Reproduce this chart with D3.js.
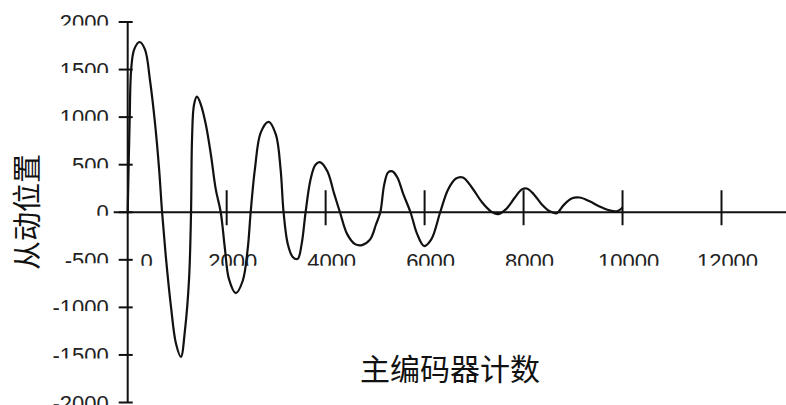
<!DOCTYPE html>
<html>
<head>
<meta charset="utf-8">
<script src="https://cdn.jsdelivr.net/npm/d3@7"></script>
<style>
  html, body { margin: 0; padding: 0; background: #fff; }
  svg { display: block; }
  .tick-label { font-family: "Liberation Sans", Arial, sans-serif; font-size: 22px; fill: #222; }
  .axis-title { font-family: "Noto Sans CJK SC", sans-serif; fill: #111; }
</style>
</head>
<body>
<svg id="chart" width="786" height="405"></svg>
<script>
// Master encoder count vs. follower position (damped oscillation)
const encoderCounts = [0, 40, 70, 130, 240, 350, 450, 555, 635, 695, 775, 875, 975, 1075, 1160, 1240,
  1280, 1300, 1340, 1400, 1480, 1580, 1680, 1780, 1880, 1965, 2045, 2185, 2325, 2425, 2485, 2570,
  2690, 2850, 2995, 3090, 3150, 3235, 3335, 3435, 3515, 3595, 3695, 3795, 3895, 4035, 4175, 4290,
  4435, 4595, 4735, 4900, 5020, 5105, 5185, 5265, 5350, 5450, 5570, 5715, 5850, 5990, 6135, 6315,
  6475, 6635, 6775, 6955, 7160, 7340, 7480, 7640, 7825, 7965, 8065, 8205, 8365, 8530, 8670, 8810,
  8970, 9130, 9335, 9535, 9735, 9880, 9960, 10000];
const followerPositions = [0, 975, 1500, 1710, 1790, 1710, 1390, 920, 450, 0, -490, -995, -1380, -1520, -1225, -700,
  0, 765, 1130, 1215, 1130, 920, 610, 240, 0, -385, -700, -850, -720, -385, 0, 450,
  840, 950, 815, 450, 0, -335, -470, -490, -335, 0, 345, 500, 525, 430, 190, 0,
  -230, -335, -345, -285, -125, 0, 295, 420, 430, 365, 190, 0, -230, -355, -285, 0,
  240, 355, 365, 260, 105, 10, -20, 30, 155, 240, 250, 190, 85, 10, -10, 75,
  145, 155, 115, 60, 20, 10, 30, 50];
const xTickValues = [0, 2000, 4000, 6000, 8000, 10000, 12000];
const yTickValues = [2000, 1500, 1000, 500, 0, -500, -1000, -1500, -2000];
const xTitle = "主编码器计数";
const yTitle = "从动位置";

const svg = d3.select("#chart");
const W = 786;

const x = d3.scaleLinear().domain([0, 12000]).range([127.7, 721.5]);
const y = d3.scaleLinear().domain([-2000, 2000]).range([402.5, 22]);

// Tick labels show only their upper part (cropped baseline)
const defs = svg.append("defs");
defs.append("clipPath").attr("id", "yLabelClip")
  .append("rect").attr("x", -120).attr("y", -25).attr("width", 120).attr("height", 28.5);
defs.append("clipPath").attr("id", "xLabelClip")
  .append("rect").attr("x", -60).attr("y", 30).attr("width", 120).attr("height", 23.5);

// Y axis
const yAxis = svg.append("g").attr("transform", `translate(${x(0)},0)`);
yAxis.append("line")
  .attr("x1", 0).attr("x2", 0)
  .attr("y1", y(2000)).attr("y2", y(-2000))
  .attr("stroke", "#111").attr("stroke-width", 2);
const yTicks = yAxis.selectAll("g.ytick").data(yTickValues).join("g")
  .attr("class", "ytick")
  .attr("transform", d => `translate(0,${y(d)})`);
yTicks.append("line")
  .attr("x1", -9).attr("x2", 5)
  .attr("stroke", "#111").attr("stroke-width", 2);
yTicks.append("text")
  .attr("class", "tick-label")
  .attr("x", -19).attr("y", 8)
  .attr("text-anchor", "end")
  .attr("clip-path", "url(#yLabelClip)")
  .text(d => d);

// X axis
const xAxis = svg.append("g").attr("transform", `translate(0,${y(0)})`);
xAxis.append("line")
  .attr("x1", x(0) - 14).attr("x2", W)
  .attr("stroke", "#111").attr("stroke-width", 2);
const xTicks = xAxis.selectAll("g.xtick").data(xTickValues).join("g")
  .attr("class", "xtick")
  .attr("transform", d => `translate(${x(d)},0)`);
xTicks.filter(d => d !== 0).append("line")
  .attr("y1", -22).attr("y2", 13)
  .attr("stroke", "#111").attr("stroke-width", 2);
xTicks.append("text")
  .attr("class", "tick-label")
  .attr("x", d => d === 0 ? 19 : 6)
  .attr("y", 57)
  .attr("text-anchor", "middle")
  .attr("clip-path", "url(#xLabelClip)")
  .text(d => d);

// Position curve
const points = encoderCounts.map((c, i) => [c, followerPositions[i]]);
const line = d3.line()
  .x(d => x(d[0]))
  .y(d => y(d[1]))
  .curve(d3.curveCatmullRom.alpha(0.5));
svg.append("path")
  .datum(points)
  .attr("d", line)
  .attr("fill", "none")
  .attr("stroke", "#111")
  .attr("stroke-width", 2.2)
  .attr("stroke-linejoin", "round");

// Axis titles
svg.append("text")
  .attr("class", "axis-title")
  .attr("x", 450).attr("y", 367)
  .attr("text-anchor", "middle")
  .attr("dominant-baseline", "central")
  .style("font-size", "30px")
  .text(xTitle);
svg.append("text")
  .attr("class", "axis-title")
  .attr("transform", "translate(25,212) rotate(-90)")
  .attr("text-anchor", "middle")
  .attr("dominant-baseline", "central")
  .style("font-size", "29px")
  .text(yTitle);
</script>
</body>
</html>
